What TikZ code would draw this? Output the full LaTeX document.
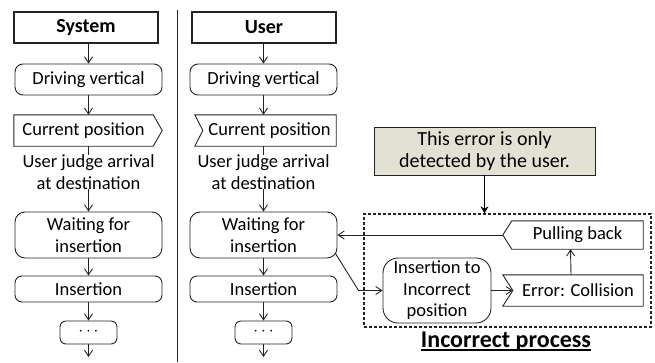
\documentclass[tikz,border=0pt]{standalone}
\usepackage{fontspec}
\setmainfont{Carlito}
\usetikzlibrary{arrows.meta,calc}
\definecolor{ink}{RGB}{35,35,35}
\definecolor{notefill}{RGB}{227,225,212}
\begin{document}
\begin{tikzpicture}[x=1pt,y=-1pt,
  font=\fontsize{18.5}{21.5}\selectfont,
  every node/.style={inner sep=0pt, align=center, text=black},
  titlebox/.style={draw=ink, line width=1.8pt, minimum height=31pt, font=\fontsize{20}{24}\selectfont\bfseries},
  stepbox/.style={draw=ink, line width=0.9pt, rounded corners=8pt, minimum width=147pt, minimum height=31pt},
  flag/.style={minimum height=31pt},
  outline/.style={draw=ink, line width=0.9pt, line join=miter},
  link/.style={draw=ink, line width=0.9pt},
  arr/.style={draw=ink, line width=0.9pt, -{Straight Barb[length=6pt,width=8pt]}},
  bigarr/.style={draw=black, line width=1.5pt, -{Stealth[length=7pt,width=8pt]}},
]
\useasboundingbox (0,0) rectangle (655,362);

% column divider
\draw[ink, line width=0.9pt] (177,10) -- (177,362);

% ---------------- System column ----------------
\node[titlebox, minimum width=144pt] (sysT) at (86,27.5) {System};
\node[stepbox] (sysD) at (88.5,79.5) {Driving vertical};
\node[flag, minimum width=139pt] (sysC) at (83.5,130.5) {Current position};
\draw[outline] (sysC.north west) -- (sysC.north east) -- ([xshift=9pt]sysC.east)
  -- (sysC.south east) -- (sysC.south west) -- cycle;
\node (sysJ) at (88.5,172) {User judge arrival\\at destination};
\node[stepbox, minimum height=46pt, rounded corners=10pt] (sysW) at (88.5,235) {Waiting for\\insertion};
\node[stepbox, minimum height=26pt, rounded corners=7pt] (sysI) at (88.5,289) {Insertion};
\node[stepbox, minimum width=57pt, minimum height=23pt, rounded corners=6pt] (sysX) at (88.5,332.5) {\raisebox{2pt}{$\cdots$}};
\coordinate (sysE) at (88.5,357);

\draw[arr] (sysD.north |- sysT.south) -- (sysD.north);
\draw[arr] (sysD.south) -- (sysD.south |- sysC.north);
\draw[link] (sysD.south |- sysC.south) -- (sysJ.north);
\draw[arr] (sysJ.south) -- (sysW.north);
\draw[arr] (sysW.south) -- (sysI.north);
\draw[arr] (sysI.south) -- (sysX.north);
\draw[arr] (sysX.south) -- (sysE);

% ---------------- User column ----------------
\node[titlebox, minimum width=144pt] (usrT) at (264,27.5) {User};
\node[stepbox] (usrD) at (263.5,79.5) {Driving vertical};
\node[flag, minimum width=133pt] (usrC) at (269.5,130.5) {Current position};
\draw[outline] (usrC.north east) -- ([xshift=-8pt]usrC.north west) -- (usrC.west)
  -- ([xshift=-8pt]usrC.south west) -- (usrC.south east) -- cycle;
\node (usrJ) at (263.5,172) {User judge arrival\\at destination};
\node[stepbox, minimum height=46pt, rounded corners=10pt] (usrW) at (263.5,235) {Waiting for\\insertion};
\node[stepbox, minimum height=26pt, rounded corners=7pt] (usrI) at (263.5,289) {Insertion};
\node[stepbox, minimum width=57pt, minimum height=23pt, rounded corners=6pt] (usrX) at (263.5,332.5) {\raisebox{2pt}{$\cdots$}};
\coordinate (usrE) at (263.5,357);

\draw[arr] (usrD.north |- usrT.south) -- (usrD.north);
\draw[arr] (usrD.south) -- (usrD.south |- usrC.north);
\draw[link] (usrD.south |- usrC.south) -- (usrJ.north);
\draw[arr] (usrJ.south) -- (usrW.north);
\draw[arr] (usrW.south) -- (usrI.north);
\draw[arr] (usrI.south) -- (usrX.north);
\draw[arr] (usrX.south) -- (usrE);

% ---------------- Incorrect process ----------------
\node[draw=ink, fill=notefill, line width=0.9pt, minimum width=221pt, minimum height=48pt,
  font=\fontsize{20}{22}\selectfont] (note)
  at (484.5,151) {This error is only\\detected by the user.};
\node[draw=ink, line width=1.2pt, dash pattern=on 3pt off 2pt,
  minimum width=287pt, minimum height=113pt] (grp) at (507.5,270.5) {};
\draw[bigarr] (note.south) -- (note.south |- grp.north);

\node[flag, minimum width=131pt, minimum height=28pt] (pb) at (577.5,235) {Pulling back};
\draw[outline] (pb.north west) -- (pb.north east) -- (pb.south east) -- (pb.south west)
  -- ([xshift=-9pt]pb.west) -- cycle;
\coordinate (pbtip) at ([xshift=-9pt]pb.west);

\node[flag, minimum width=130pt] (err) at (578,290.5) {Error: Collision};
\draw[outline] ([xshift=-10pt]err.north west) -- (err.north east) -- (err.south east)
  -- ([xshift=-10pt]err.south west) -- (err.west) -- cycle;

\node[draw=ink, line width=0.9pt, rounded corners=15pt, minimum width=108pt, minimum height=65pt]
  (iti) at (437,290.5) {Insertion to\\Incorrect\\position};

\draw[arr] (iti.east) -- (err.west);
\draw[arr] ([xshift=-7pt]err.north) -- ([xshift=-7pt]pb.south);
\draw[arr] (pbtip) -- (pbtip -| usrW.east);
\draw[arr] ([shift={(-2,-5)}]usrW.south east) -- ([xshift=-24pt]iti.west) -- (iti.west);

\node[anchor=base, font=\fontsize{24}{28}\selectfont\bfseries] (ip) at (506,347) {Incorrect process};
\draw[black, line width=1.6pt] ([yshift=-3pt]ip.base west) -- ([yshift=-3pt]ip.base east);
\end{tikzpicture}
\end{document}
